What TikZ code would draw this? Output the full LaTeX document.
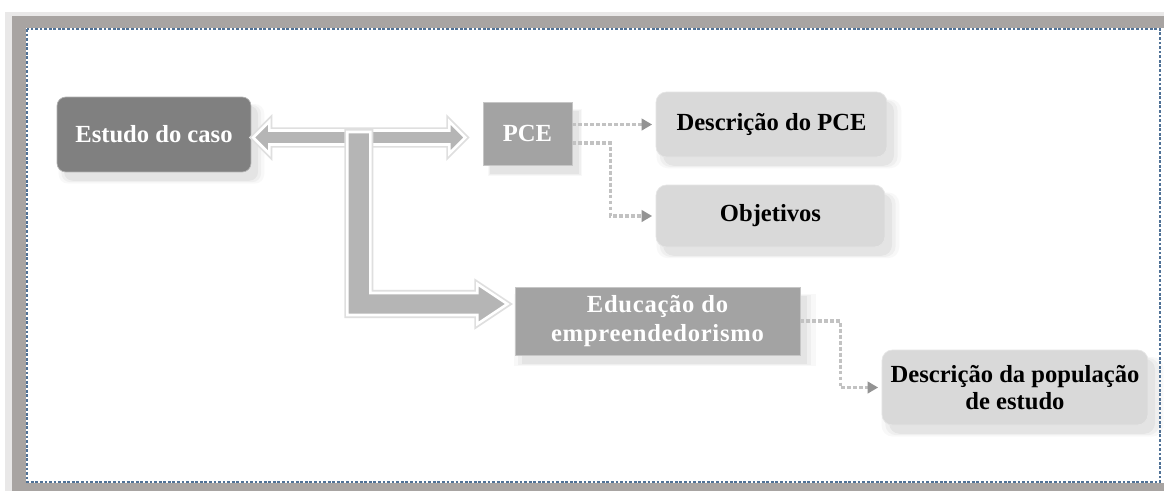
\documentclass[tikz,border=0pt]{standalone}
\usepackage{fontspec}
\setmainfont{Liberation Serif}
\usetikzlibrary{arrows.meta,shadows}

\definecolor{framegray}{RGB}{168,164,162}
\definecolor{dashblue}{RGB}{79,113,150}

\tikzset{
  softshadow/.style={
    drop shadow={opacity=.09, shadow xshift=4pt, shadow yshift=-5pt, shadow scale=1.00},
    drop shadow={opacity=.07, shadow xshift=4pt, shadow yshift=-5pt, shadow scale=1.03},
    drop shadow={opacity=.05, shadow xshift=4pt, shadow yshift=-5pt, shadow scale=1.06}},
  box/.style={align=center, inner sep=2pt, font=\bfseries\fontsize{14}{15}\selectfont, softshadow},
  darkbox/.style={box, fill=gray, draw=gray!60, rounded corners=5pt, text=white},
  midbox/.style={box, fill=gray!72, draw=gray!45, text=white},
  lightbox/.style={box, fill=gray!30, draw=gray!20, rounded corners=6pt, text=black},
  blockarrow/.style={fill=gray!58, draw=white, line width=1.5pt, line join=miter,
    preaction={draw=gray!25, line width=3.5pt}},
  link/.style={draw=gray!48, line width=2pt, dash pattern=on 2.2pt off 1.2pt,
    -{Triangle[length=6pt,width=6.5pt,color=gray!85]}, shorten >=2pt}
}

\begin{document}
\begin{tikzpicture}[x=0.02cm, y=-0.02cm]
  \useasboundingbox (0,0) rectangle (1164,491);
  % frame
  \fill[framegray!25] (5,12) rectangle (1164,491);
  \fill[framegray] (12,16) rectangle (1164,491);
  \fill[white] (26,28) rectangle (1164,483);
  \draw[dashblue, line width=1.2pt, dash pattern=on 1.6pt off 1pt] (27,29) rectangle (1160,482);

  % boxes
  \node[darkbox, minimum width=3.88cm, minimum height=1.5cm] (caso) at (154,134.5) {Estudo do caso};
  \node[midbox, minimum width=1.78cm, minimum height=1.26cm] (pce) at (527.5,133.5) {PCE};
  \node[lightbox, minimum width=4.62cm, minimum height=1.3cm] (desc) at (771.5,124.5) {Descrição do PCE};
  \node[lightbox, minimum width=4.58cm, minimum height=1.24cm] (obj) at (770.5,216) {Objetivos};
  \node[midbox, minimum width=5.7cm, minimum height=1.36cm,
    font=\bfseries\fontsize{14}{17}\selectfont\addfontfeature{LetterSpace=3}] (educ) at (657.5,321) {Educação do\\empreendedorismo};
  \node[lightbox, minimum width=5.32cm, minimum height=1.5cm] (pop) at (1015,387.5) {Descrição da população\\de estudo};

  % block arrows
  \draw[blockarrow] (caso.east) ++(2,3) -- ++(16,-16) -- ++(0,9) -- ++(180,0) -- ++(0,-9)
    -- ++(16,16) -- ++(-16,16) -- ++(0,-9) -- ++(-180,0) -- ++(0,9) -- cycle;
  \draw[blockarrow] (caso.east) ++(96,-2.5) -- ++(23,0) -- ++(0,161) -- ++(107,0) -- ++(0,-9)
    -- ++(30,20) -- ++(-30,20) -- ++(0,-9) -- ++(-130,0) -- cycle;

  % dotted links
  \draw[link] (pce.east |- desc.west) -- (desc.west);
  \draw[link] (pce.east) ++(0,9.5) -- ++(38,0) |- (obj.west);
  \draw[link] (educ.east) -- ++(40,0) |- (pop.west);
\end{tikzpicture}
\end{document}
